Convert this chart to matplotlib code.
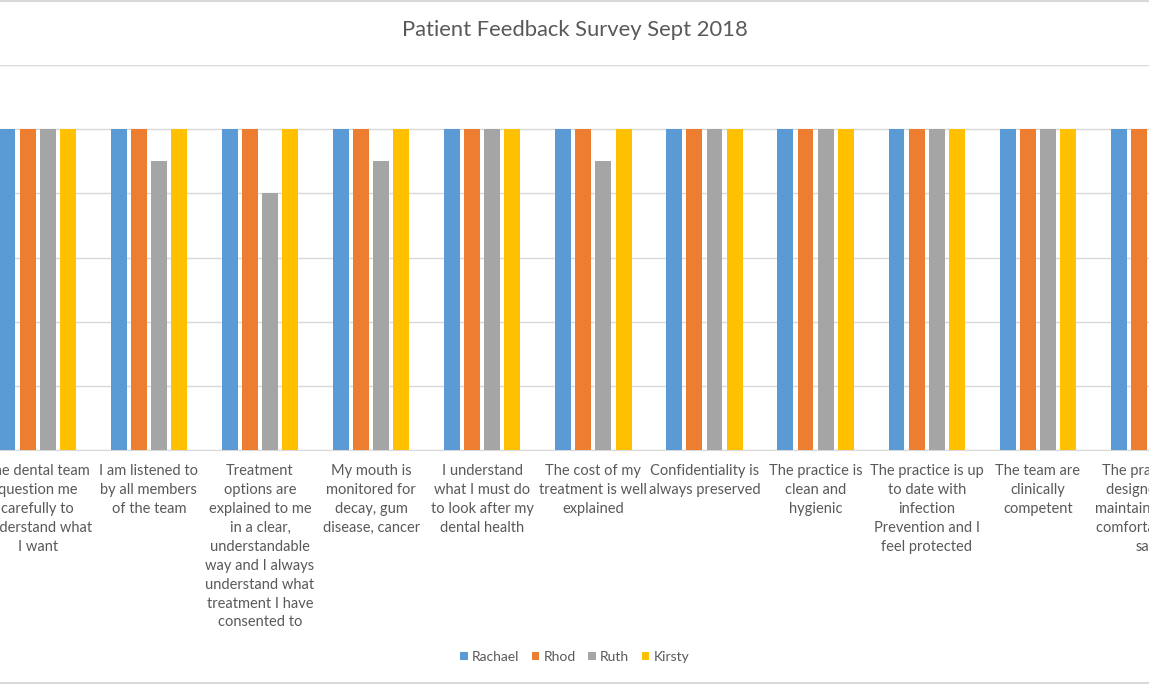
import numpy as np
import matplotlib
matplotlib.use("Agg")
import matplotlib.pyplot as plt
from matplotlib.lines import Line2D
from matplotlib.patches import Patch

plt.rcParams['font.family'] = ['Lato', 'DejaVu Sans']

categories = [
    "The dental team\nquestion me\ncarefully to\nunderstand what\nI want",
    "I am listened to\nby all members\nof the team",
    "Treatment\noptions are\nexplained to me\nin a clear,\nunderstandable\nway and I always\nunderstand what\ntreatment I have\nconsented to",
    "My mouth is\nmonitored for\ndecay, gum\ndisease, cancer",
    "I understand\nwhat I must do\nto look after my\ndental health",
    "The cost of my\ntreatment is well\nexplained",
    "Confidentiality is\nalways preserved",
    "The practice is\nclean and\nhygienic",
    "The practice is up\nto date with\ninfection\nPrevention and I\nfeel protected",
    "The team are\nclinically\ncompetent",
    "The practice is\ndesigned and\nmaintained to be\ncomfortable and\nsafe",
]
rachael = [5, 5, 5, 5, 5, 5, 5, 5, 5, 5, 5]
rhod = [5, 5, 5, 5, 5, 5, 5, 5, 5, 5, 5]
ruth = [5, 4.5, 4, 4.5, 5, 4.5, 5, 5, 5, 5, 5]
kirsty = [5, 5, 5, 5, 5, 5, 5, 5, 5, 5, 5]

series = {"Rachael": rachael, "Rhod": rhod, "Ruth": ruth, "Kirsty": kirsty}
colors = ["#5B9BD5", "#ED7D31", "#A5A5A5", "#FFC000"]
text_col = "#595959"
grid_col = "#D9D9D9"

W, H = 1149, 684
fig = plt.figure(figsize=(W / 100, H / 100), dpi=100)
ax = fig.add_axes([0, (H - 450) / H, 1, (450 - 65) / H])

x = np.arange(len(categories))
step = 20.3 / 112
width = 16 / 112
for i, (name, vals) in enumerate(series.items()):
    ax.bar(x + (i - 1.5) * step, vals, width=width, color=colors[i], label=name, zorder=3)

# category 0 centred at pixel 38, spacing 112 px
ax.set_xlim(-38 / 112, (W - 38) / 112)
ax.set_ylim(0, 6)
ax.set_yticks(range(7))
ax.set_yticklabels([])
ax.yaxis.grid(True, color=grid_col, linewidth=1, zorder=0)
ax.set_xticks(x)
ax.set_xticklabels(categories, fontsize=10.5, color=text_col, linespacing=1.45)
ax.tick_params(axis='both', length=0)
ax.tick_params(axis='x', pad=10)
for s in ['top', 'left', 'right']:
    ax.spines[s].set_visible(False)
ax.spines['bottom'].set_color(grid_col)

fig.text(0.5, 1 - 30 / H, "Patient Feedback Survey Sept 2018", ha='center', va='center',
         fontsize=15.8, color=text_col)

handles = [Patch(facecolor=c, label=n) for c, n in zip(colors, series)]
fig.legend(handles=handles, loc='center', bbox_to_anchor=(0.5, 1 - 657 / H), ncol=4,
           frameon=False, fontsize=10, labelcolor=text_col, handlelength=0.55,
           handleheight=0.55, handletextpad=0.3, columnspacing=0.9)

fig.add_artist(Line2D([0, 1], [0.999, 0.999], transform=fig.transFigure, color=grid_col, linewidth=1.5))
fig.add_artist(Line2D([0, 1], [0.002, 0.002], transform=fig.transFigure, color=grid_col, linewidth=1.5))

fig.savefig("out.png", dpi=100, facecolor='white')
